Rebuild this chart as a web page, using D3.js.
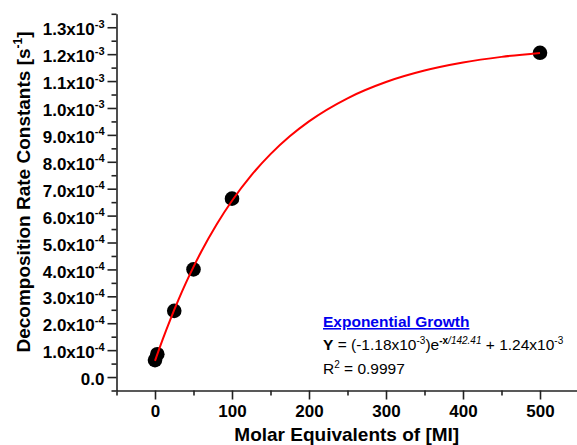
<!DOCTYPE html>
<html>
<head>
<meta charset="utf-8">
<script src="https://cdn.jsdelivr.net/npm/d3@7"></script>
<style>
  body { margin: 0; background: #fff; }
  svg { display: block; font-family: "Liberation Sans", Arial, sans-serif; }
</style>
</head>
<body>
<svg id="chart" width="577" height="445"></svg>
<script>
// measured points
const molarEq = [0, 3, 25, 50, 100, 500];
const rateK = [6.3e-5, 8.5e-5, 2.46e-4, 4.0e-4, 6.63e-4, 1.205e-3];

// fit parameters shown in legend (Y = A*e^(-x/t) + y0)
const fitA = -1.18e-3;
const fitT = 142.41;
const fitY0 = 1.24e-3;
const fitX = [0, 10, 20, 30, 40, 50, 60, 80, 100, 125, 150, 175, 200, 250, 300, 350, 400, 450, 500];

const xTicks = [0, 100, 200, 300, 400, 500];
const xMinor = [-50, 50, 150, 250, 350, 450, 550];
const yTicks = [0, 1e-4, 2e-4, 3e-4, 4e-4, 5e-4, 6e-4, 7e-4, 8e-4, 9e-4, 1.0e-3, 1.1e-3, 1.2e-3, 1.3e-3];
const yMantissa = ["0.0", "1.0", "2.0", "3.0", "4.0", "5.0", "6.0", "7.0", "8.0", "9.0", "1.0", "1.1", "1.2", "1.3"];
const yExponent = ["", "-4", "-4", "-4", "-4", "-4", "-4", "-4", "-4", "-4", "-3", "-3", "-3", "-3"];
const yMinor = [-5e-5, 5e-5, 1.5e-4, 2.5e-4, 3.5e-4, 4.5e-4, 5.5e-4, 6.5e-4, 7.5e-4, 8.5e-4, 9.5e-4, 1.05e-3, 1.15e-3, 1.25e-3, 1.35e-3];

const svg = d3.select("#chart");

const x = d3.scaleLinear().domain([-50, 550]).range([116.5, 578.5]);
const y = d3.scaleLinear().domain([-5e-5, 1.35e-3]).range([390.5, 13.8]);

const x0 = x(-50), y0 = y(-5e-5);
const font = "Liberation Sans, Arial, sans-serif";

// minor ticks first
svg.append("g").attr("transform", `translate(0,${y0})`)
  .call(d3.axisBottom(x).tickValues(xMinor).tickSize(5).tickSizeOuter(0).tickFormat(""))
  .call(g => g.select(".domain").remove());
svg.append("g").attr("transform", `translate(${x0},0)`)
  .call(d3.axisLeft(y).tickValues(yMinor).tickSize(5).tickSizeOuter(0).tickFormat(""))
  .call(g => g.select(".domain").remove());

// x axis
const xAxis = svg.append("g").attr("transform", `translate(0,${y0})`)
  .call(d3.axisBottom(x).tickValues(xTicks).tickSize(9).tickPadding(5).tickSizeOuter(0));
xAxis.selectAll("text").attr("font-size", 17).attr("font-weight", "bold").attr("fill", "#000")
  .attr("font-family", font);

// y axis
const yAxis = svg.append("g").attr("transform", `translate(${x0},0)`)
  .call(d3.axisLeft(y).tickValues(yTicks).tickSize(9).tickPadding(3).tickSizeOuter(0).tickFormat(""));
yAxis.selectAll(".tick text").each(function (d, i) {
  const t = d3.select(this)
    .attr("font-size", 17).attr("font-weight", "bold").attr("fill", "#000")
    .attr("font-family", font)
    .attr("dy", "0.45em");
  if (yExponent[i]) {
    t.append("tspan").text(yMantissa[i] + "x10");
    t.append("tspan").attr("font-size", 11).attr("dy", "-0.7em").text(yExponent[i]);
  } else {
    t.text(yMantissa[i]);
  }
});

svg.selectAll(".domain, .tick line").attr("stroke", "#222").attr("stroke-width", 1.6);

// data points
svg.append("g").selectAll("circle")
  .data(molarEq.map((v, i) => [v, rateK[i]]))
  .join("circle")
  .attr("cx", d => x(d[0]))
  .attr("cy", d => y(d[1]))
  .attr("r", 7.3)
  .attr("fill", "#000");

// fit curve
const line = d3.line().x(d => x(d[0])).y(d => y(d[1])).curve(d3.curveMonotoneX);
svg.append("path")
  .datum(fitX.map(v => [v, fitA * Math.exp(-v / fitT) + fitY0]))
  .attr("d", line)
  .attr("fill", "none")
  .attr("stroke", "#ff0000")
  .attr("stroke-width", 2);

// axis titles
svg.append("text")
  .attr("transform", "translate(30,192) rotate(-90)")
  .attr("text-anchor", "middle")
  .attr("font-size", 19).attr("font-weight", "bold")
  .call(t => {
    t.append("tspan").text("Decomposition Rate Constants [s");
    t.append("tspan").attr("font-size", 12).attr("dy", "-0.7em").text("-1");
    t.append("tspan").attr("dy", "0.45em").text("]");
  });

svg.append("text")
  .attr("x", (x0 + 577) / 2)
  .attr("y", 441)
  .attr("text-anchor", "middle")
  .attr("font-size", 19).attr("font-weight", "bold")
  .text("Molar Equivalents of [MI]");

// legend
const lg = svg.append("g").attr("transform", "translate(323,0)");
lg.append("text").attr("y", 327)
  .attr("font-size", 15.5).attr("font-weight", "bold")
  .attr("fill", "#0000ee").attr("text-decoration", "underline")
  .text("Exponential Growth");

lg.append("text").attr("y", 350).attr("font-size", 15.5).attr("fill", "#000")
  .call(t => {
    t.append("tspan").attr("font-weight", "bold").text("Y");
    t.append("tspan").text(" = (-1.18x10");
    t.append("tspan").attr("font-size", 10).attr("dy", -6).text("-3");
    t.append("tspan").attr("dy", 6).text(")e");
    t.append("tspan").attr("font-size", 10).attr("dy", -6).attr("font-weight", "bold").text("-x");
    t.append("tspan").attr("font-size", 10).attr("font-style", "italic").text("/142.41");
    t.append("tspan").attr("dy", 6).text("  + 1.24x10");
    t.append("tspan").attr("font-size", 10).attr("dy", -6).text("-3");
  });

lg.append("text").attr("y", 374).attr("font-size", 15.5).attr("fill", "#000")
  .call(t => {
    t.append("tspan").text("R");
    t.append("tspan").attr("font-size", 10).attr("dy", -6).text("2");
    t.append("tspan").attr("dy", 6).text(" = 0.9997");
  });
</script>
</body>
</html>
